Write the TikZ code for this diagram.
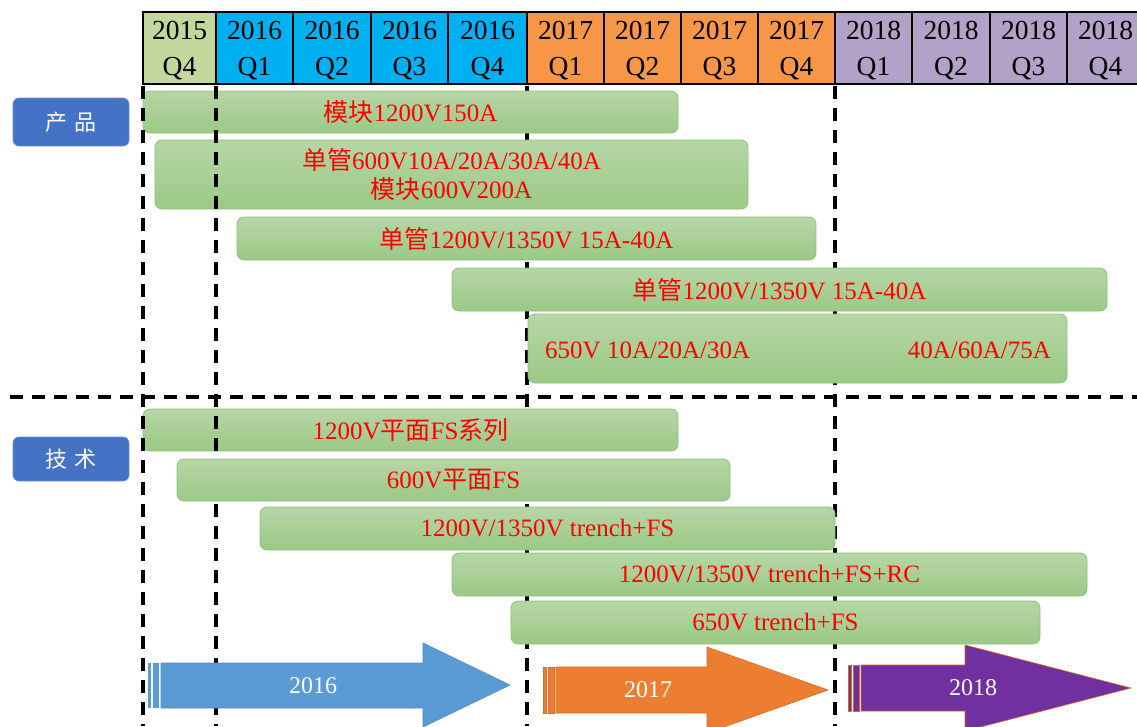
\documentclass[tikz,border=0pt]{standalone}
\usepackage{fontspec}
\setmainfont{Liberation Serif}
\newfontfamily\cjk{Noto Sans CJK SC}

\definecolor{cQA}{HTML}{C3D69B}
\definecolor{cQB}{HTML}{00B0F0}
\definecolor{cQC}{HTML}{F79646}
\definecolor{cQD}{HTML}{B3A2C7}
\definecolor{lblBlue}{HTML}{4472C4}
\definecolor{barTop}{HTML}{B6D6A6}
\definecolor{barBot}{HTML}{9BC986}
\definecolor{barEdge}{HTML}{90C276}
\definecolor{arBlue}{HTML}{5B9BD5}
\definecolor{arBlueEdge}{HTML}{4F8CC9}
\definecolor{arOrange}{HTML}{ED7D31}
\definecolor{arOrangeEdge}{HTML}{D96A20}
\definecolor{arPurple}{HTML}{7030A0}

\begin{document}
\begin{tikzpicture}[x=1pt,y=-1pt,
  hcell/.style={draw=black, line width=1.8pt, inner sep=0pt, minimum height=72pt},
  htxt/.style={inner sep=0pt, align=center, font=\fontsize{27.5}{36}\selectfont},
  dline/.style={line width=3.2pt, dash pattern=on 13pt off 9pt, black},
  gbar/.style={rounded corners=7pt, draw=barEdge, line width=0.8pt,
    top color=barTop, bottom color=barBot, text=red, inner sep=0pt,
    align=center, font=\fontsize{25}{29}\selectfont},
  redtxt/.style={text=red, inner sep=0pt, font=\fontsize{25}{29}\selectfont},
  lblbox/.style={rounded corners=6pt, fill=lblBlue, draw=lblBlue!80!white,
    line width=0.6pt, text=white, minimum width=116pt, inner sep=0pt,
    font=\fontsize{22}{26}\selectfont\cjk},
  artxt/.style={text=white, inner sep=0pt, font=\fontsize{24}{28}\selectfont}
]
\useasboundingbox (0,0) rectangle (1137,726);
\clip (0,0) rectangle (1137,726);

% quarter header
\foreach \l/\r/\c/\yr/\q [count=\i] in {
  143/216/cQA/2015/Q4, 216/293/cQB/2016/Q1, 293/371/cQB/2016/Q2,
  371/448/cQB/2016/Q3, 448/527/cQB/2016/Q4, 527/604/cQC/2017/Q1,
  604/681/cQC/2017/Q2, 681/758/cQC/2017/Q3, 758/835/cQC/2017/Q4,
  835/912/cQD/2018/Q1, 912/990/cQD/2018/Q2, 990/1067/cQD/2018/Q3,
  1067/1144/cQD/2018/Q4} {
  \node[hcell, fill=\c, minimum width={(\r-\l)*1pt}] (h\i) at ({(\l+\r)/2},48) {};
  \node[htxt] (ht\i) at ({(\l+\r)/2},51) {\yr\\\q};
}

% year boundaries lying behind the bars
\coordinate (v3t) at (527,86);  \coordinate (v3b) at (527,726);
\coordinate (v4t) at (835,86);  \coordinate (v4b) at (835,726);
\draw[dline] (v3t) -- (v3b);
\draw[dline] (v4t) -- (v4b);

% section divider
\coordinate (hl) at (10,397); \coordinate (hr) at (1137,397);
\draw[dline] (hl) -- (hr);

% side labels
\node[lblbox, minimum height=48pt] (prod) at (71,122) {产\hspace{8pt}品};
\node[lblbox, minimum height=44pt] (tech) at (71,459) {技\hspace{8pt}术};

% product bars
\node[gbar, minimum width=535pt, minimum height=42pt] (p1) at (410.5,112) {{\cjk 模块}1200V150A};
\node[gbar, minimum width=593pt, minimum height=69pt] (p2) at (451.5,174.5)
  {{\cjk 单管}600V10A/20A/30A/40A\\{\cjk 模块}600V200A};
\node[gbar, minimum width=579pt, minimum height=43pt] (p3) at (526.5,238.5) {{\cjk 单管}1200V/1350V 15A-40A};
\node[gbar, minimum width=655pt, minimum height=43pt] (p4) at (779.5,289.5) {{\cjk 单管}1200V/1350V 15A-40A};
\node[gbar, minimum width=539pt, minimum height=69pt] (p5) at (797.5,348.5) {};
\node[redtxt, anchor=west] (p5a) at (545,350) {650V 10A/20A/30A};
\node[redtxt, anchor=east] (p5b) at (1051,350) {40A/60A/75A};

% technology bars
\node[gbar, minimum width=535pt, minimum height=42pt] (t1) at (410.5,430) {1200V{\cjk 平面}FS{\cjk 系列}};
\node[gbar, minimum width=575pt, minimum height=43pt] (t3) at (547.5,528.5) {1200V/1350V trench+FS};
\node[gbar, minimum width=635pt, minimum height=43pt] (t4) at (769.5,574.5) {1200V/1350V trench+FS+RC};
\node[gbar, minimum width=529pt, minimum height=43pt] (t5) at (775.5,622.5) {650V trench+FS};

% year boundaries drawn over the first bars
\coordinate (v1t) at (143,86);  \coordinate (v1b) at (143,726);
\coordinate (v2t) at (216,86);  \coordinate (v2b) at (216,726);
\draw[dline] (v1t) -- (v1b);
\draw[dline] (v2t) -- (v2b);

\node[gbar, minimum width=553pt, minimum height=42pt] (t2) at (453.5,480) {600V{\cjk 平面}FS};

% year arrows
\fill[arBlue] (148,663) rectangle (151,708);
\fill[arBlue] (153,663) rectangle (159,708);
\draw[fill=arBlue, draw=arBlueEdge, line width=0.6pt]
  (161,663) -- (423,663) -- (423,643) -- (510,685) -- (423,727) -- (423,708) -- (161,708) -- cycle;
\node[artxt] (y16) at (313,686) {2016};

\fill[arOrange, draw=arOrangeEdge, line width=0.5pt] (543,667) rectangle (546,713);
\fill[arOrange, draw=arOrangeEdge, line width=0.5pt] (548,667) rectangle (554,713);
\draw[fill=arOrange, draw=arOrangeEdge, line width=0.6pt]
  (556,667) -- (707,667) -- (707,647) -- (828,690) -- (707,733) -- (707,713) -- (556,713) -- cycle;
\node[artxt] (y17) at (648,690) {2017};

\fill[arPurple, draw=arOrangeEdge, line width=0.5pt] (848,665) rectangle (851,711);
\fill[arPurple, draw=arOrangeEdge, line width=0.5pt] (853,665) rectangle (859,711);
\draw[fill=arPurple, draw=arOrangeEdge, line width=0.6pt]
  (861,665) -- (965,665) -- (965,645) -- (1131,688) -- (965,731) -- (965,711) -- (861,711) -- cycle;
\node[artxt] (y18) at (973,688) {2018};
\end{tikzpicture}
\end{document}
